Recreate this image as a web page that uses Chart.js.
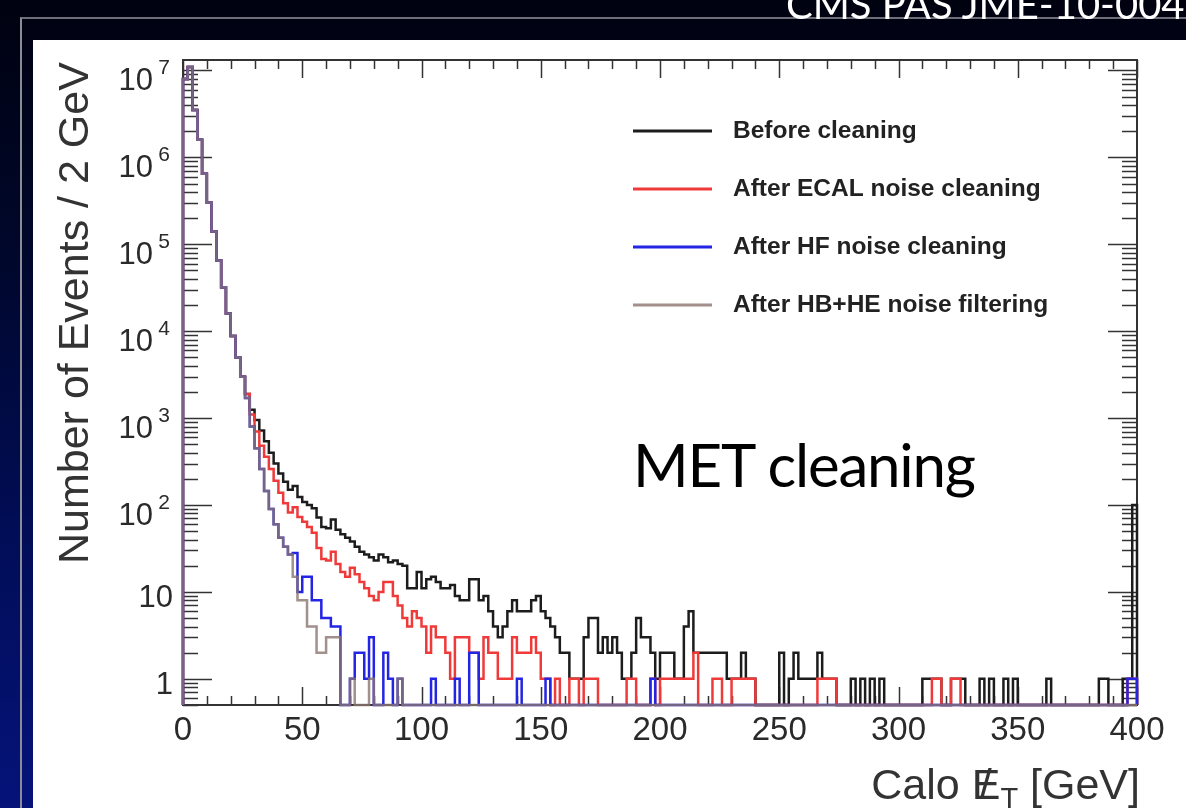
<!DOCTYPE html>
<html>
<head>
<meta charset="utf-8">
<title>Calo MET cleaning</title>
<script src="https://cdn.jsdelivr.net/npm/chart.js@4.4.1/dist/chart.umd.min.js"></script>
<style>
  html, body { margin: 0; padding: 0; }
  body {
    width: 1186px; height: 808px; position: relative; overflow: hidden;
    background: linear-gradient(180deg, #000210 0%, #00072a 30%, #010d55 65%, #05137a 100%);
    font-family: "Liberation Sans", Arial, sans-serif;
  }
  #rule { position: absolute; left: 20px; top: 17px; right: -4px; bottom: -4px;
          border-left: 2px solid #8c8c96; border-top: 2px solid #6e6e7a; }
  #panel { position: absolute; left: 33px; top: 40px; right: 0; bottom: 0; background: #fff; }
  #chart { position: absolute; left: 0; top: 0; z-index: 1; }
  .txt { position: absolute; z-index: 2; white-space: nowrap; }
  #header { left: 786px; top: -20px; color: #fff; font: 40px/48px Lato, sans-serif; }
  #ytitle { left: 52px; top: 564px; color: #333; font: 43px/43px "Liberation Sans", Arial, sans-serif;
            transform: rotate(-90deg); transform-origin: 0 0; }
  #xtitle { right: 46px; top: 763px; color: #333; font: 43px/43px "Liberation Sans", Arial, sans-serif; }
  .met { position: relative; display: inline-block; }
  .met .sl { position: absolute; left: 8px; top: 0; }
  .sub { position: relative; top: 9px; font-size: 29px; }
  #note { left: 633px; top: 434px; color: #000; font: 60px/60px Lato, sans-serif; letter-spacing: -1.2px; }
</style>
</head>
<body>
<div id="rule"></div>
<div id="panel"></div>
<canvas id="chart" width="1186" height="808"></canvas>
<div class="txt" id="header">CMS PAS JME-10-004</div>
<div class="txt" id="ytitle">Number of Events / 2 GeV</div>
<div class="txt" id="xtitle">Calo <span class="met">E<span class="sl">/</span></span><span class="sub">T</span> [GeV]</div>
<div class="txt" id="note">MET cleaning</div>
<script>
// Histogram binning: 200 bins of 2 GeV from 0 to 400 GeV
const BIN_WIDTH = 2;
const X_TICKS = [0, 50, 100, 150, 200, 250, 300, 350, 400];
const Y_DECADES = [1, 10, 100, 1e3, 1e4, 1e5, 1e6, 1e7];
const Y_MIN = 0.5;
const Y_MAX = 1.32e7;

// Events per bin, before any cleaning
const beforeCleaning = [
  8.0e6, 1.1e7, 3.5e6, 1.6e6, 6.5e5, 3.0e5, 1.4e5, 6.5e4, 3.2e4, 1.6e4,
  8800, 5000, 3000, 1900, 1250, 950, 720, 540, 400, 300,
  230, 185, 150, 165, 124, 108, 100, 92, 72, 56,
  54, 68, 52, 46, 42, 38, 33, 29, 27, 25,
  23, 27, 25, 22, 23, 21, 20, 11, 11, 17,
  11, 14, 15, 13, 11, 11, 12, 9, 8, 8,
  14, 14, 8, 9, 6, 4, 3, 4, 6, 8,
  6, 6, 6, 8, 9, 6, 5, 4, 3, 2,
  2, 1, 1, 1, 3, 5, 5, 2, 3, 2,
  3, 2, 1, 1, 2, 5, 3, 3, 2, 1,
  2, 2, 2, 1, 1, 4, 6, 2, 2, 2,
  2, 2, 2, 2, 1, 1, 1, 2, 1, 1,
  0, 0, 0, 0, 0, 2, 0, 1, 2, 1,
  1, 1, 1, 2, 1, 1, 1, 0, 0, 0,
  1, 0, 1, 0, 1, 0, 1, 0, 0, 0,
  0, 0, 0, 0, 0, 1, 1, 1, 1, 0,
  0, 1, 1, 1, 0, 0, 0, 1, 0, 1,
  0, 0, 1, 0, 1, 0, 0, 0, 0, 0,
  0, 1, 0, 0, 0, 0, 0, 0, 0, 0,
  0, 0, 1, 1, 0, 0, 0, 1, 1, 100
];

// After ECAL noise cleaning
const afterEcal = [
  8.0e6, 1.1e7, 3.5e6, 1.6e6, 6.5e5, 3.0e5, 1.4e5, 6.5e4, 3.2e4, 1.6e4,
  8800, 5000, 3000, 1900, 1100, 700, 480, 360, 260, 190,
  138, 105, 82, 94, 73, 64, 56, 48, 32, 24,
  23, 29, 21, 17, 15, 19, 16, 13, 11, 9,
  8, 10, 13, 13, 9, 7, 5, 4, 6, 5,
  4, 2, 4, 3, 3, 2, 1, 3, 3, 3,
  2, 2, 1, 3, 2, 2, 1, 1, 1, 3,
  2, 2, 2, 3, 2, 1, 1, 0, 1, 0,
  0, 1, 1, 0, 1, 1, 1, 0, 0, 0,
  0, 0, 0, 1, 1, 0, 0, 0, 1, 0,
  1, 1, 1, 1, 1, 1, 1, 2, 0, 0,
  0, 1, 1, 0, 0, 1, 1, 1, 1, 1,
  0, 0, 0, 0, 0, 0, 0, 0, 0, 0,
  0, 0, 0, 1, 1, 1, 1, 0, 0, 0,
  0, 0, 0, 0, 0, 0, 0, 0, 0, 0,
  0, 0, 0, 0, 0, 0, 0, 1, 1, 0,
  0, 1, 1, 0, 0, 0, 0, 0, 0, 0,
  0, 0, 0, 0, 0, 0, 0, 0, 0, 0,
  0, 0, 0, 0, 0, 0, 0, 0, 0, 0,
  0, 0, 0, 0, 0, 0, 0, 0, 1, 1
];

// After HF noise cleaning
const afterHf = [
  8.0e6, 1.1e7, 3.5e6, 1.6e6, 6.5e5, 3.0e5, 1.4e5, 6.5e4, 3.2e4, 1.6e4,
  8800, 5000, 3000, 1700, 800, 450, 260, 145, 90, 60,
  42, 33, 27, 28, 10, 15, 15, 8, 8, 5,
  5, 4, 4, 0, 0, 1, 2, 2, 1, 3,
  0, 0, 2, 1, 0, 1, 0, 0, 0, 0,
  0, 0, 1, 0, 0, 0, 0, 1, 0, 0,
  2, 2, 0, 0, 0, 0, 0, 0, 0, 0,
  1, 0, 0, 0, 0, 0, 1, 0, 0, 0,
  0, 0, 0, 0, 0, 0, 0, 0, 0, 0,
  0, 0, 0, 0, 0, 0, 0, 0, 1, 0,
  0, 0, 0, 0, 0, 0, 0, 0, 0, 0,
  0, 0, 0, 0, 0, 0, 0, 0, 0, 0,
  0, 0, 0, 0, 0, 0, 0, 0, 0, 0,
  0, 0, 0, 0, 0, 0, 0, 0, 0, 0,
  0, 0, 0, 0, 0, 0, 0, 0, 0, 0,
  0, 0, 0, 0, 0, 0, 0, 0, 0, 0,
  0, 0, 0, 0, 0, 0, 0, 0, 0, 0,
  0, 0, 0, 0, 0, 0, 0, 0, 0, 0,
  0, 0, 0, 0, 0, 0, 0, 0, 0, 0,
  0, 0, 0, 0, 0, 0, 0, 0, 1, 1
];

// After HB+HE noise filtering
const afterHbhe = [
  8.0e6, 1.1e7, 3.5e6, 1.6e6, 6.5e5, 3.0e5, 1.4e5, 6.5e4, 3.2e4, 1.6e4,
  8800, 5000, 3000, 1700, 800, 450, 260, 145, 90, 60,
  42, 33, 27, 15, 8, 8, 4, 4, 2, 2,
  3, 3, 3, 0, 0, 1, 0, 0, 0, 1,
  0, 0, 0, 0, 0, 1, 0, 0, 0, 0,
  0, 0, 0, 0, 0, 0, 0, 0, 0, 0,
  0, 0, 0, 0, 0, 0, 0, 0, 0, 0,
  0, 0, 0, 0, 0, 0, 0, 0, 0, 0,
  0, 0, 0, 0, 0, 0, 0, 0, 0, 0,
  0, 0, 0, 0, 0, 0, 0, 0, 0, 0,
  0, 0, 0, 0, 0, 0, 0, 0, 0, 0,
  0, 0, 0, 0, 0, 0, 0, 0, 0, 0,
  0, 0, 0, 0, 0, 0, 0, 0, 0, 0,
  0, 0, 0, 0, 0, 0, 0, 0, 0, 0,
  0, 0, 0, 0, 0, 0, 0, 0, 0, 0,
  0, 0, 0, 0, 0, 0, 0, 0, 0, 0,
  0, 0, 0, 0, 0, 0, 0, 0, 0, 0,
  0, 0, 0, 0, 0, 0, 0, 0, 0, 0,
  0, 0, 0, 0, 0, 0, 0, 0, 0, 0,
  0, 0, 0, 0, 0, 0, 0, 0, 0, 0
];

const seriesLabels = [
  'Before cleaning',
  'After ECAL noise cleaning',
  'After HF noise cleaning',
  'After HB+HE noise filtering'
];
const seriesColors = ['#1c1c1c', '#f03a3a', '#2424e4', 'rgba(138,116,110,0.8)'];

// Step outline of a histogram: one point per bin low edge, starting and
// ending on the baseline; empty bins sit on the bottom of the log axis.
function outline(counts) {
  const pts = [{ x: 0, y: Y_MIN }];
  counts.forEach((c, i) => pts.push({ x: i * BIN_WIDTH, y: c > 0 ? c : Y_MIN }));
  pts.push({ x: counts.length * BIN_WIDTH, y: Y_MIN });
  return pts;
}

const FONT = '"Liberation Sans", Arial, sans-serif';

// Frame with inward ticks on all four sides, power-of-ten labels and the legend
const rootFrame = {
  id: 'rootFrame',
  beforeDatasetsDraw(chart) {
    const { ctx, chartArea: a, scales: { x, y } } = chart;
    ctx.save();
    ctx.strokeStyle = '#333';
    ctx.lineWidth = 1.5;
    const seg = (x1, y1, x2, y2) => { ctx.beginPath(); ctx.moveTo(x1, y1); ctx.lineTo(x2, y2); ctx.stroke(); };
    for (let v = X_TICKS[0]; v <= X_TICKS[X_TICKS.length - 1]; v += 10) {
      const px = Math.round(x.getPixelForValue(v)) + 0.5;
      const len = X_TICKS.includes(v) ? 18 : 9;
      seg(px, a.bottom, px, a.bottom - len);
      seg(px, a.top, px, a.top + len);
    }
    [0.1].concat(Y_DECADES).forEach(d => {
      for (let m = 1; m <= 9; m++) {
        const v = m * d;
        if (v < Y_MIN || v > Y_MAX) continue;
        const py = Math.round(y.getPixelForValue(v)) + 0.5;
        const len = m === 1 ? 29 : 15;
        seg(a.left, py, a.left + len, py);
        seg(a.right, py, a.right - len, py);
      }
    });
    ctx.lineWidth = 2;
    ctx.strokeRect(a.left, a.top, a.right - a.left, a.bottom - a.top);
    ctx.restore();
  },
  afterDatasetsDraw(chart) {
    const { ctx, chartArea: a, scales: { y } } = chart;
    ctx.save();
    // y tick labels
    ctx.fillStyle = '#2a2a2a';
    ctx.textAlign = 'right';
    ctx.textBaseline = 'alphabetic';
    Y_DECADES.forEach(v => {
      const py = y.getPixelForValue(v);
      const e = Math.round(Math.log10(v));
      if (e < 2) {
        ctx.font = '31px ' + FONT;
        ctx.fillText(String(v), a.left - 10, py + 15);
      } else {
        ctx.font = '31px ' + FONT;
        ctx.fillText('10', a.left - 30, py + 19.5);
        ctx.font = '21px ' + FONT;
        ctx.fillText(String(e), a.left - 13, py + 3.5);
      }
    });
    // legend
    const lx0 = a.left + 450, lx1 = a.left + 529, tx = a.left + 550;
    chart.data.datasets.forEach((ds, i) => {
      const ly = a.top + 71 + i * 58;
      ctx.strokeStyle = ds.borderColor;
      ctx.lineWidth = 3;
      ctx.beginPath(); ctx.moveTo(lx0, ly); ctx.lineTo(lx1, ly); ctx.stroke();
      ctx.fillStyle = '#222';
      ctx.font = 'bold 24.5px ' + FONT;
      ctx.textAlign = 'left';
      ctx.textBaseline = 'middle';
      ctx.fillText(ds.label, tx, ly);
    });
    ctx.restore();
  }
};

const allSeries = [beforeCleaning, afterEcal, afterHf, afterHbhe];

new Chart(document.getElementById('chart'), {
  type: 'line',
  data: {
    datasets: allSeries.map((counts, i) => ({
      label: seriesLabels[i],
      data: outline(counts),
      borderColor: seriesColors[i],
      borderWidth: 2.5,
      stepped: 'before',
      pointRadius: 0,
      fill: false,
      tension: 0,
      clip: 3,
      borderJoinStyle: 'miter',
      order: allSeries.length - i
    }))
  },
  options: {
    responsive: false,
    animation: false,
    devicePixelRatio: 1,
    parsing: false,
    normalized: true,
    layout: { padding: { left: 33, top: 60, right: 49, bottom: 0 } },
    plugins: { legend: { display: false }, tooltip: { enabled: false } },
    scales: {
      x: {
        type: 'linear',
        min: X_TICKS[0],
        max: X_TICKS[X_TICKS.length - 1],
        grid: { display: false, drawTicks: false },
        border: { display: false },
        afterBuildTicks: s => { s.ticks = X_TICKS.map(v => ({ value: v })); },
        ticks: {
          autoSkip: false, maxRotation: 0, padding: 6, color: '#2a2a2a',
          font: { family: 'Liberation Sans', size: 33 }
        },
        afterFit: s => { s.height = 103; }
      },
      y: {
        type: 'logarithmic',
        min: Y_MIN,
        max: Y_MAX,
        grid: { display: false, drawTicks: false },
        border: { display: false },
        ticks: { display: false },
        afterFit: s => { s.width = 150; }
      }
    }
  },
  plugins: [rootFrame]
});
</script>
</body>
</html>
